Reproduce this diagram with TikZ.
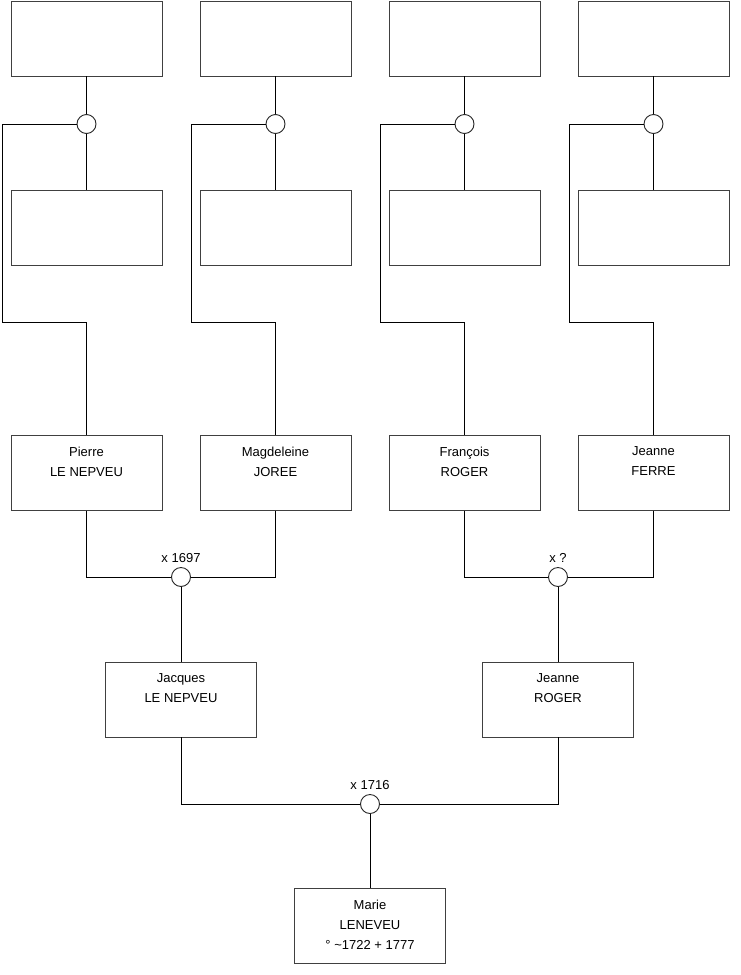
\documentclass[tikz,border=0pt]{standalone}
\usepackage{fontspec}
\setmainfont{Liberation Sans}
\usetikzlibrary{positioning}

\begin{document}
\begin{tikzpicture}[x=1pt,y=-1pt,
  box/.style={draw=black!75,line width=0.9pt,minimum width=151pt,minimum height=75pt,inner sep=0pt},
  union/.style={draw=black!85,line width=0.9pt,circle,fill=white,minimum size=19pt,inner sep=0pt},
  names/.style={align=center,inner sep=0pt,anchor=north,font=\fontsize{13}{20}\selectfont},
  wed/.style={font=\fontsize{13}{15}\selectfont,inner sep=4pt},
  link/.style={line width=0.9pt}]
  \useasboundingbox (0,0) rectangle (740,975);
  % four ancestor columns
  \foreach \i/\x/\first/\last in {1/86.5/Pierre/LE NEPVEU, 2/275.5/Magdeleine/JOREE,
                                  3/464.5/François/ROGER, 4/653.5/Jeanne/FERRE} {
    \node[box] (top\i) at (\x,38.5) {};
    \node[union] (u\i) at (\x,124) {};
    \node[box] (mid\i) at (\x,227.5) {};
    \node[box] (p\i) at (\x,473) {};
    \node[names] (pn\i) at ([yshift=-11.5pt]p\i.north) {\first\\\last};
    \coordinate (bend\i) at (\x-84.5,322);
    \draw[link] (top\i) -- (u\i);
    \draw[link] (u\i) -- (mid\i);
    \draw[link] (u\i.west) -| (bend\i) -| (p\i.north);
  }
  % parents' marriages
  \node[union,label={[wed]above:x 1697}] (m1) at (181,577) {};
  \node[union,label={[wed]above:x ?}] (m2) at (558,577) {};
  \draw[link] (p1.south) |- (m1.west);
  \draw[link] (p2.south) |- (m1.east);
  \draw[link] (p3.south) |- (m2.west);
  \draw[link] (p4.south) |- (m2.east);
  \node[box] (jacques) at (181,699.5) {};
  \node[names] (jacquesn) at ([yshift=-11.5pt]jacques.north) {Jacques\\LE NEPVEU};
  \node[box] (jeanne) at (558,699.5) {};
  \node[names] (jeannen) at ([yshift=-11.5pt]jeanne.north) {Jeanne\\ROGER};
  \draw[link] (m1) -- (jacques);
  \draw[link] (m2) -- (jeanne);
  % last marriage
  \node[union,label={[wed]above:x 1716}] (m3) at (370,804) {};
  \draw[link] (jacques.south) |- (m3.west);
  \draw[link] (jeanne.south) |- (m3.east);
  \node[box] (marie) at (370,926) {};
  \node[names] (marien) at ([yshift=-11.5pt]marie.north) {Marie\\LENEVEU\\° \textasciitilde1722 + 1777};
  \draw[link] (m3) -- (marie);
\end{tikzpicture}
\end{document}
